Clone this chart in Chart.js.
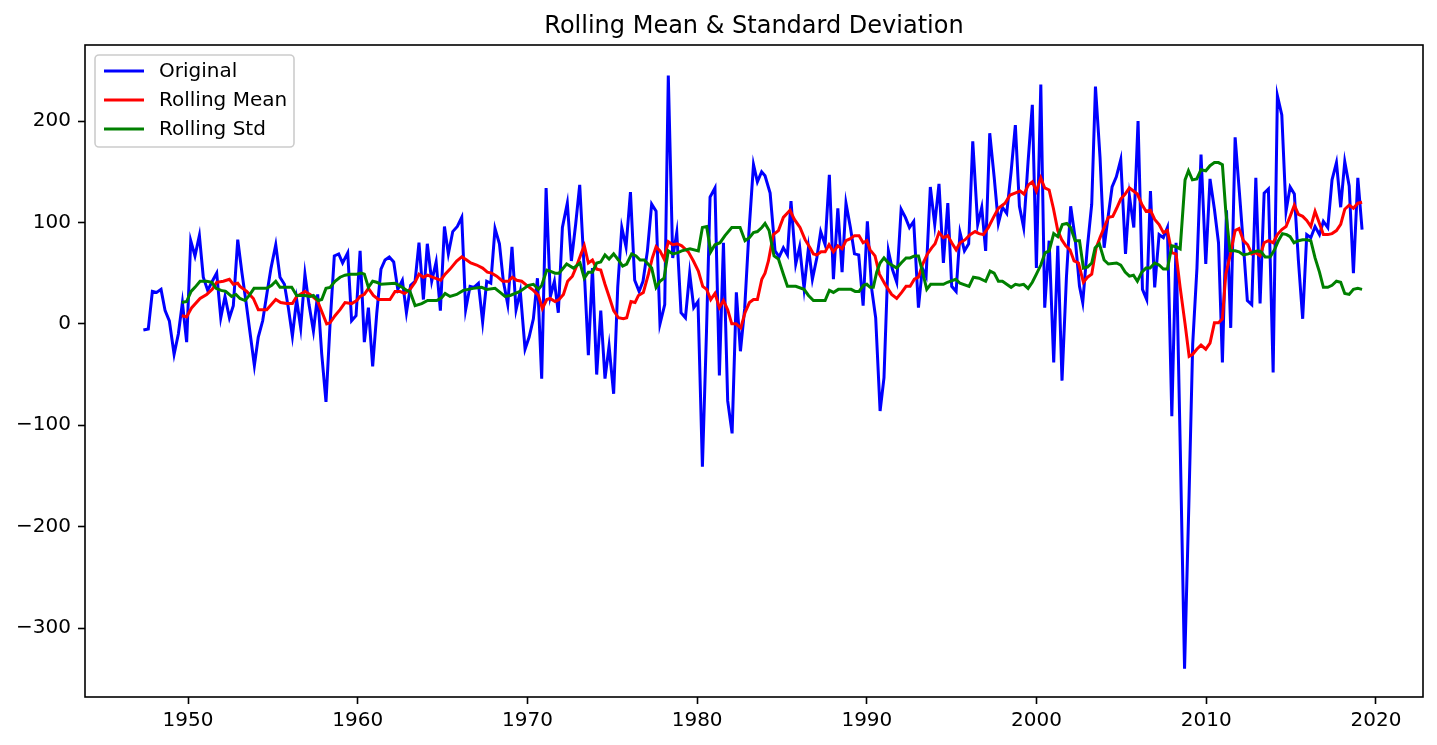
<!DOCTYPE html>
<html lang="en">
<head>
<meta charset="UTF-8">
<title>Rolling Mean & Standard Deviation</title>
<style>
    body { margin: 0; background: #fff; }
    #wrap { width: 1437px; height: 745px; }
</style>
</head>
<body>
<div id="wrap"><canvas id="myChart"></canvas></div>
<script src="https://cdn.jsdelivr.net/npm/chart.js"></script>
<script>
// values (year, value)
var origYears = [1947.37,1947.66,1947.90,1948.15,1948.41,1948.65,1948.90,1949.18,1949.43,1949.67,1949.92,1950.16,1950.41,1950.67,1950.90,1951.16,1951.43,1951.69,1951.93,1952.18,1952.44,1952.67,1952.93,
    1953.18,1953.43,1953.68,1953.91,1954.14,1954.40,1954.64,1954.89,1955.17,1955.42,1955.68,1955.91,1956.15,1956.40,1956.64,1956.89,1957.13,1957.39,1957.64,1957.88,1958.13,1958.37,1958.62,1958.88,1959.11,
    1959.41,1959.64,1959.90,1960.14,1960.39,1960.63,1960.88,1961.12,1961.37,1961.61,1961.86,1962.12,1962.36,1962.63,1962.87,1963.12,1963.38,1963.61,1963.87,1964.10,1964.36,1964.62,1964.87,1965.11,1965.34,
    1965.60,1965.87,1966.13,1966.36,1966.62,1966.85,1967.11,1967.36,1967.60,1967.84,1968.09,1968.35,1968.58,1968.84,1969.09,1969.33,1969.58,1969.86,1970.10,1970.35,1970.59,1970.84,1971.10,1971.35,1971.59,
    1971.82,1972.06,1972.35,1972.59,1972.84,1973.08,1973.32,1973.59,1973.83,1974.08,1974.32,1974.57,1974.81,1975.08,1975.32,1975.56,1975.81,1976.07,1976.32,1976.58,1976.81,1977.07,1977.32,1977.58,1977.81,
    1978.09,1978.30,1978.56,1978.80,1979.05,1979.31,1979.56,1979.80,1980.05,1980.31,1980.55,1980.76,1981.05,1981.31,1981.55,1981.80,1982.06,1982.31,1982.55,1982.80,1983.05,1983.32,1983.55,1983.80,
    1984.00,1984.30,1984.59,1984.83,1985.08,1985.32,1985.53,1985.81,1986.04,1986.30,1986.56,1986.79,1987.05,1987.28,1987.54,1987.79,1988.03,1988.29,1988.54,1988.77,1989.03,1989.27,1989.52,1989.78,1990.03,
    1990.28,1990.52,1990.78,1991.01,1991.27,1991.50,1991.76,1992.02,1992.27,1992.51,1992.76,1993.04,1993.27,1993.49,1993.74,1994.00,1994.25,1994.51,1994.77,1995.00,1995.26,1995.49,1995.75,1996.00,1996.24,
    1996.53,1996.77,1997.00,1997.24,1997.50,1997.75,1997.99,1998.24,1998.50,1998.75,1998.99,1999.24,1999.50,1999.75,1999.99,2000.25,2000.48,2000.74,2001.01,2001.25,2001.50,2001.76,2002.01,2002.27,2002.53,
    2002.72,2002.99,2003.25,2003.47,2003.74,2003.98,2004.21,2004.45,2004.70,2004.96,2005.24,2005.47,2005.73,2005.98,2006.24,2006.49,2006.71,2006.96,2007.22,2007.47,2007.71,2007.97,2008.22,2008.47,
    2008.72,2008.97,2009.20,2009.45,2009.69,2009.97,2010.22,2010.48,2010.72,2010.95,2011.19,2011.44,2011.70,2011.95,2012.20,2012.42,2012.68,2012.92,2013.17,2013.41,2013.66,2013.94,2014.19,2014.45,2014.70,
    2014.94,2015.19,2015.43,2015.68,2015.92,2016.16,2016.41,2016.67,2016.90,2017.16,2017.41,2017.67,2017.92,2018.16,2018.42,2018.67,2018.93,2019.18];
var origValues = [-6,-5,32,31,34,13,3,-30,-10,21,-18,82,67,87,46,33,42,50,6,27,6,18,83,
    50,20,-12,-41,-13,3,29,55,78,46,39,16,-12,24,-4,49,19,-7,29,-30,-77,0,67,69,60,
    70,3,8,72,-18,16,-42,10,54,63,66,61,34,43,11,38,42,80,24,79,42,61,13,96,69,
    91,96,105,14,37,36,40,2,42,40,94,79,42,19,76,14,32,-25,-13,5,45,-54,134,27,42,
    11,95,119,62,98,137,62,-31,55,-50,13,-54,-22,-69,36,95,76,130,43,32,42,72,118,111,0,
    19,245,65,90,11,6,50,16,22,-141,-8,125,134,-51,80,-76,-108,31,-27,15,90,157,140,150,
    146,129,72,66,75,68,121,59,76,35,75,44,65,91,78,147,44,114,51,119,95,69,68,18,101,
    35,6,-86,-53,72,54,41,113,105,95,101,16,55,47,135,98,138,60,119,37,32,90,72,79,180,
    98,115,72,188,145,99,115,109,150,196,116,95,160,216,55,236,16,82,-38,77,-56,46,116,85,37,
    21,75,118,234,164,75,105,135,145,162,69,126,95,200,34,24,131,36,88,85,95,-91,80,-125,
    -340,-180,-20,55,167,59,143,113,80,-38,112,-4,184,130,75,23,19,144,20,129,133,-48,225,206,111,
    135,128,62,5,88,85,96,88,101,95,142,159,115,160,136,50,144,93];

var meanYears = [1949.63,1949.92,1950.22,1950.71,1951.10,1951.43,1951.69,1952.08,1952.44,1952.67,1952.93,1953.06,1953.46,1953.85,1954.14,1954.64,1955.17,1955.46,1955.81,1956.15,1956.40,1956.89,1957.19,1957.62,1957.98,1958.17,1958.37,1958.66,1958.96,
    1959.25,1959.64,1959.94,1960.14,1960.39,1960.63,1960.92,1961.22,1961.90,1962.20,1962.49,1962.75,1963.08,1963.38,1963.61,1963.87,1964.12,1964.40,1964.89,1965.15,1965.44,1965.83,1966.13,1966.42,1966.66,
    1967.01,1967.36,1967.64,1967.89,1968.19,1968.54,1968.88,1969.11,1969.37,1969.66,1969.96,1970.35,1970.65,1970.88,1971.14,1971.33,1971.63,1971.86,1972.12,1972.37,1972.65,1972.90,1973.16,1973.35,1973.59,
    1973.83,1974.08,1974.32,1974.57,1974.83,1975.08,1975.36,1975.65,1975.85,1976.10,1976.34,1976.54,1976.83,1977.13,1977.36,1977.58,1977.81,1978.05,1978.30,1978.56,1978.83,1979.09,1979.48,1979.78,1980.07,
    1980.33,1980.56,1980.80,1981.05,1981.31,1981.55,1981.80,1982.04,1982.29,1982.57,1982.82,1983.08,1983.32,1983.55,1983.81,1984.00,1984.20,1984.49,1984.79,1985.08,1985.47,1985.73,1986.06,1986.36,1986.65,
    1986.85,1987.05,1987.30,1987.54,1987.77,1988.03,1988.29,1988.54,1988.77,1989.03,1989.27,1989.54,1989.78,1990.00,1990.19,1990.48,1990.74,1991.07,1991.46,1991.76,1992.05,1992.31,1992.55,1992.80,1993.04,
    1993.29,1993.57,1993.82,1994.02,1994.25,1994.51,1994.77,1995.00,1995.26,1995.49,1995.79,1996.08,1996.38,1996.61,1996.87,1997.16,1997.46,1997.75,1998.14,1998.44,1998.73,1999.03,1999.26,1999.52,1999.75,
    1999.99,2000.25,2000.48,2000.74,2000.99,2001.25,2001.48,2001.72,2001.97,2002.21,2002.47,2002.76,2003.00,2003.25,2003.51,2003.74,2003.98,2004.23,2004.49,2004.72,2004.96,2005.22,2005.47,2005.71,2005.94,
    2006.20,2006.45,2006.71,2006.96,2007.22,2007.47,2007.71,2007.97,2008.22,2008.46,2008.75,2008.99,2009.20,2009.44,2009.69,2009.97,2010.22,2010.48,2010.72,2010.95,2011.15,2011.40,2011.70,2011.93,2012.19,
    2012.44,2012.68,2012.92,2013.17,2013.41,2013.66,2013.94,2014.19,2014.45,2014.70,2014.94,2015.19,2015.43,2015.68,2015.92,2016.16,2016.41,2016.67,2016.90,2017.16,2017.41,2017.67,2017.92,2018.16,2018.42,
    2018.67,2018.93,2019.18];
var meanValues = [8,7,16,25,29,34,41,42,44,39,40,37,32,25,14,14,24,21,20,20,27,32,29,23,8,0,1,8,14,
    21,20,23,27,29,35,28,24,24,32,32,30,34,41,49,46,48,46,43,49,54,62,66,63,60,
    58,55,51,50,47,42,42,46,43,42,38,33,28,15,24,25,22,24,29,42,47,57,69,77,60,
    63,54,53,39,26,13,6,5,6,22,21,28,31,49,65,76,72,64,81,78,79,77,71,62,52,
    37,34,24,30,16,23,14,0,0,-4,11,21,24,24,44,50,62,88,92,105,112,103,95,83,75,
    69,68,71,71,78,71,77,74,82,84,87,87,80,82,73,67,49,39,29,25,31,37,37,44,46,
    59,69,75,79,90,85,87,80,73,80,83,88,91,89,88,95,105,114,119,127,129,131,128,137,140,
    131,144,134,132,114,92,83,77,73,62,60,41,46,49,75,85,95,105,106,114,123,128,134,131,128,
    118,111,112,103,98,90,92,70,69,36,0,-32,-30,-25,-21,-25,-19,1,1,5,49,67,92,94,82,
    78,69,70,67,80,82,80,88,93,96,106,117,108,106,102,96,111,99,88,88,89,92,98,113,117,
    114,119,120];

var stdYears = [1949.63,1949.92,1950.18,1950.41,1950.71,1951.10,1951.40,1951.65,1951.95,1952.22,1952.57,1952.83,1953.06,1953.36,1953.61,1953.89,1954.64,1954.93,1955.17,1955.42,1956.11,1956.40,1956.89,1957.19,1957.39,1957.68,1957.88,
    1958.13,1958.37,1958.66,1958.96,1959.25,1959.55,1959.94,1960.20,1960.39,1960.63,1960.88,1961.12,1961.37,1962.20,1962.63,1962.89,1963.08,1963.38,1963.77,1964.12,1964.66,1964.95,1965.15,1965.44,
    1965.83,1966.22,1966.81,1967.30,1967.60,1968.09,1968.39,1968.68,1968.98,1969.56,1970.06,1970.35,1970.65,1970.84,1971.14,1971.33,1971.63,1971.86,1972.31,1972.71,1973.10,1973.35,1973.59,1973.83,
    1974.08,1974.32,1974.57,1974.81,1975.08,1975.36,1975.61,1975.85,1976.14,1976.40,1976.64,1976.89,1977.32,1977.58,1977.81,1978.05,1978.30,1978.56,1978.83,1979.09,1979.58,1980.07,1980.31,1980.56,
    1980.80,1981.05,1981.35,1981.64,1982.04,1982.53,1982.82,1983.08,1983.32,1983.55,1983.81,1984.00,1984.24,1984.53,1984.79,1985.08,1985.32,1985.81,1986.30,1986.56,1986.85,1987.24,1987.54,1987.79,
    1988.03,1988.32,1988.72,1989.07,1989.31,1989.54,1989.80,1990.00,1990.19,1990.38,1990.58,1990.78,1991.01,1991.27,1991.76,1992.02,1992.31,1992.55,1992.80,1993.04,1993.27,1993.53,1993.76,1994.51,
    1994.75,1995.24,1995.49,1996.02,1996.28,1996.61,1997.00,1997.26,1997.50,1997.75,1997.99,1998.24,1998.50,1998.75,1998.99,1999.24,1999.50,1999.75,1999.99,2000.25,2000.50,2000.74,2001.01,2001.25,
    2001.52,2001.78,2002.01,2002.27,2002.53,2002.76,2003.00,2003.25,2003.45,2003.70,2003.98,2004.23,2004.72,2004.96,2005.22,2005.47,2005.71,2005.94,2006.20,2006.45,2006.69,2006.96,2007.22,2007.47,
    2007.71,2007.97,2008.22,2008.46,2008.75,2008.95,2009.18,2009.44,2009.69,2009.97,2010.22,2010.48,2010.72,2010.95,2011.15,2011.40,2011.70,2011.93,2012.19,2012.48,2012.78,2013.03,2013.23,2013.47,
    2013.76,2014.02,2014.25,2014.49,2014.74,2014.94,2015.17,2015.43,2015.68,2015.92,2016.16,2016.41,2016.67,2016.90,2017.16,2017.41,2017.67,2017.92,2018.16,2018.42,2018.67,2018.93,2019.18];
var stdValues = [21,22,32,36,42,42,41,35,33,32,27,29,25,23,28,35,35,38,42,36,36,28,28,27,28,23,24,
    35,36,42,46,48,49,49,50,49,36,42,41,39,40,36,33,32,18,20,23,23,26,30,27,
    29,33,35,36,34,35,31,27,28,32,38,39,34,38,53,52,50,50,59,55,60,45,51,51,
    60,61,68,64,69,63,57,59,69,67,63,63,55,36,42,45,72,69,70,72,74,72,95,96,
    71,78,80,87,95,95,82,85,90,91,95,99,92,67,64,49,37,37,34,28,23,23,23,33,
    31,34,34,34,32,32,38,39,36,36,51,60,65,60,55,60,65,65,67,67,52,34,39,39,
    41,44,40,37,46,45,42,52,50,42,42,39,36,39,38,39,35,41,49,58,70,72,89,86,
    98,99,95,82,82,55,56,60,75,79,63,59,60,58,51,47,48,42,51,55,55,60,58,54,
    54,77,76,74,142,151,142,143,152,151,156,159,159,157,111,72,72,71,68,69,71,72,71,66,
    66,73,82,89,88,86,80,82,83,83,82,65,51,36,36,38,42,41,30,29,34,35,34];

var xTicks = [1950, 1960, 1970, 1980, 1990, 2000, 2010, 2020];
var yTicks = [-300, -200, -100, 0, 100, 200];
var chartTitle = 'Rolling Mean & Standard Deviation';

function pairs(xs, ys) {
    return xs.map(function(x, i) { return { x: x, y: ys[i] }; });
}

var FONT = "'DejaVu Sans', sans-serif";

// title over the axes, frame around them and a matplotlib style legend
var framePlugin = {
    id: 'frame',
    afterDatasetsDraw: function(chart) {
        var a = chart.chartArea, ctx = chart.ctx;
        ctx.save();
        ctx.strokeStyle = '#000';
        ctx.lineWidth = 1.6;
        ctx.strokeRect(a.left, a.top, a.right - a.left, a.bottom - a.top);
        ctx.restore();
    },
    afterDraw: function(chart) {
        var a = chart.chartArea, ctx = chart.ctx;
        ctx.save();
        ctx.font = '24px ' + FONT;
        ctx.fillStyle = '#000';
        ctx.textAlign = 'center';
        ctx.textBaseline = 'alphabetic';
        ctx.fillText(chartTitle, (a.left + a.right) / 2, a.top - 12);

        var bx = a.left + 10, by = a.top + 10, bw = 199, bh = 92, r = 4;
        ctx.beginPath();
        ctx.moveTo(bx + r, by);
        ctx.arcTo(bx + bw, by, bx + bw, by + bh, r);
        ctx.arcTo(bx + bw, by + bh, bx, by + bh, r);
        ctx.arcTo(bx, by + bh, bx, by, r);
        ctx.arcTo(bx, by, bx + bw, by, r);
        ctx.closePath();
        ctx.fillStyle = 'rgba(255,255,255,0.8)';
        ctx.fill();
        ctx.strokeStyle = '#cccccc';
        ctx.lineWidth = 1.6;
        ctx.stroke();
        ctx.font = '20px ' + FONT;
        ctx.textAlign = 'left';
        ctx.textBaseline = 'middle';
        ctx.fillStyle = '#000';
        chart.data.datasets.forEach(function(ds, i) {
            var y = by + 16 + i * 29;
            ctx.beginPath();
            ctx.moveTo(bx + 9, y);
            ctx.lineTo(bx + 49, y);
            ctx.strokeStyle = ds.borderColor;
            ctx.lineWidth = 3;
            ctx.stroke();
            ctx.fillText(ds.label, bx + 64, y + 1);
        });
        ctx.restore();
    }
};

var ctx = document.getElementById('myChart').getContext('2d');
var myChart = new Chart(ctx, {
    type: 'line',
    data: {
        datasets: [
            { label: 'Original', data: pairs(origYears, origValues), borderColor: '#0000ff', order: 3 },
            { label: 'Rolling Mean', data: pairs(meanYears, meanValues), borderColor: '#ff0000', order: 2 },
            { label: 'Rolling Std', data: pairs(stdYears, stdValues), borderColor: '#008000', order: 1 }
        ]
    },
    options: {
        responsive: true,
        maintainAspectRatio: false,
        devicePixelRatio: 1,
        animation: false,
        datasets: {
            line: { borderWidth: 3, pointRadius: 0, tension: 0, fill: false }
        },
        layout: { padding: { left: 0, right: 14, top: 45, bottom: 0 } },
        plugins: {
            legend: { display: false },
            tooltip: { enabled: false },
            title: { display: false }
        },
        scales: {
            x: {
                type: 'linear',
                min: 1943.93,
                max: 2022.77,
                afterBuildTicks: function(scale) {
                    scale.ticks = xTicks.map(function(v) { return { value: v }; });
                },
                afterFit: function(scale) { scale.height = 48; },
                grid: { drawOnChartArea: false, drawTicks: true, tickLength: 7, tickWidth: 1.6, tickColor: '#000' },
                border: { display: false },
                ticks: {
                    color: '#000',
                    font: { family: FONT, size: 20 },
                    padding: 5,
                    maxRotation: 0,
                    callback: function(v) { return String(v); }
                }
            },
            y: {
                type: 'linear',
                min: -368,
                max: 275,
                afterBuildTicks: function(scale) {
                    scale.ticks = yTicks.map(function(v) { return { value: v }; });
                },
                afterFit: function(scale) { scale.width = 85; },
                grid: { drawOnChartArea: false, drawTicks: true, tickLength: 7, tickWidth: 1.6, tickColor: '#000' },
                border: { display: false },
                ticks: {
                    color: '#000',
                    font: { family: FONT, size: 20 },
                    padding: 7,
                    callback: function(v) { return v < 0 ? '\u2212' + Math.abs(v) : String(v); }
                }
            }
        }
    },
    plugins: [framePlugin]
});
</script>
</body>
</html>
